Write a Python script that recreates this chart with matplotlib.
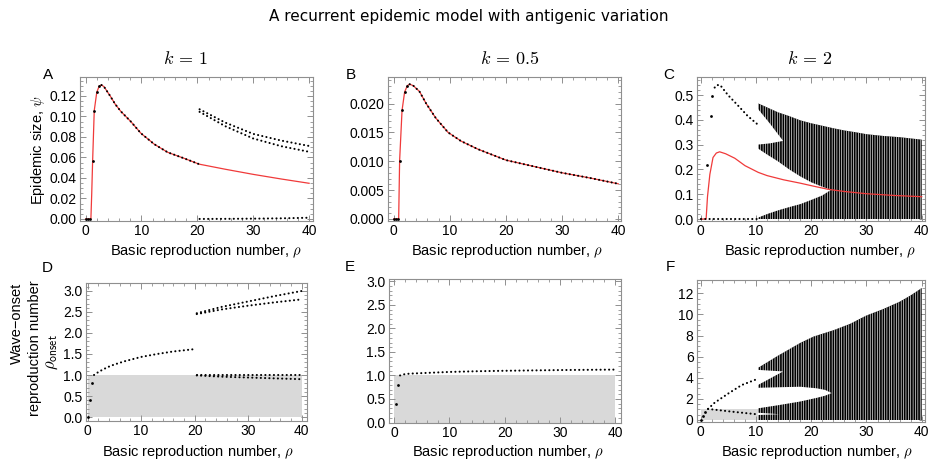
import matplotlib
matplotlib.use("Agg")
import matplotlib.pyplot as plt
from matplotlib.ticker import MultipleLocator, AutoMinorLocator, FormatStrFormatter

plt.rcParams['font.family'] = ['Liberation Sans', 'DejaVu Sans']
plt.rcParams['mathtext.fontset'] = 'cm'
plt.rcParams['hatch.linewidth'] = 0.45

W, H = 937, 469

# ---- panel A (k = 1) ----
a_rho = [0, 0.95, 1.1, 1.26, 1.55, 2.0, 2.45, 2.85, 3.3, 4.4, 5.3, 6.3, 8.1, 9.9, 12.3, 14.7, 17.7, 20.3, 25, 30, 35, 40]
a_psi = [0, 0, 0.025, 0.0566, 0.1057, 0.1236, 0.1298, 0.1307, 0.129, 0.12, 0.112, 0.105, 0.095, 0.0836,
         0.0729, 0.065, 0.059, 0.0535, 0.0485, 0.0435, 0.039, 0.0348]
a_dot_rho = [0, 0.4, 0.8, 1.26, 1.55, 2.0, 2.45]
a_dot_psi = [0, 0, 0, 0.0566, 0.1057, 0.1236, 0.1298]
a_cyc_rho = [20.4, 25, 30, 35, 40]
a_cyc_top = [0.107, 0.094, 0.083, 0.0765, 0.0712]
a_cyc_mid = [0.1045, 0.0905, 0.0785, 0.071, 0.0655]
a_cyc_zero = [0.0, 0.0001, 0.0003, 0.0006, 0.0012]

# ---- panel B (k = 0.5) ----
b_rho = [0, 0.9, 1.07, 1.5, 1.96, 2.44, 2.86, 3.5, 4.6, 5.8, 7.5, 9.7, 12, 15, 20, 25, 30, 35, 40]
b_psi = [0, 0, 0.0101, 0.0188, 0.022, 0.0231, 0.02335, 0.0231, 0.0221, 0.020, 0.0175, 0.015, 0.0135,
         0.0121, 0.0102, 0.0091, 0.0080, 0.0071, 0.0061]
b_dot_rho = [0, 0.4, 0.8, 1.07, 1.5, 1.96, 2.44]
b_dot_psi = [0, 0, 0, 0.0101, 0.0188, 0.022, 0.0231]

# ---- panel C (k = 2) ----
c_rho = [0, 0.95, 1.2, 1.63, 2.2, 2.8, 3.4, 4.5, 6.15, 8, 10.4, 12, 15, 17.9, 20.3, 23, 26, 30, 35, 40]
c_psi = [0, 0, 0.09, 0.18, 0.248, 0.266, 0.271, 0.263, 0.245, 0.215, 0.188, 0.175, 0.158, 0.145,
         0.133, 0.12, 0.111, 0.102, 0.095, 0.09]
c_dot_rho = [1.2, 1.75, 2.1]
c_dot_psi = [0.218, 0.415, 0.497]
c_up_rho = [2.5, 2.9, 3.5, 4.9, 6.75, 8.5, 10.2]
c_up_psi = [0.53, 0.54, 0.54, 0.5, 0.457, 0.415, 0.383]
c_zero_rho = [0, 10.2]
c_ch_rho = [10.4, 12, 14, 16, 18, 20, 22, 24, 26, 28, 30, 33, 36, 38, 40]
c_ch_top = [0.466, 0.45, 0.43, 0.415, 0.398, 0.386, 0.376, 0.366, 0.357, 0.35, 0.342, 0.335, 0.33, 0.325, 0.32]
c_gap_rho = [10.3, 12, 14, 16, 18, 20, 22, 23.6]
c_gap_lo = [0.005, 0.02, 0.035, 0.048, 0.06, 0.077, 0.095, 0.118]
c_gap_hi = [0.285, 0.26, 0.232, 0.2, 0.172, 0.148, 0.13, 0.118]
c_notch_rho = [10.3, 12.5, 14.9]
c_notch_lo = [0.30, 0.305, 0.315]
c_notch_hi = [0.445, 0.385, 0.315]

# ---- panel D ----
d_low_rho = [0, 0.4, 0.8]
d_low = [0, 0.4, 0.8]
d_br_rho = [1.2, 2, 3, 4, 5, 7, 10, 13, 16, 20.3]
d_br = [1.0, 1.07, 1.14, 1.2, 1.25, 1.33, 1.43, 1.5, 1.56, 1.62]
d_cyc_rho = [20.4, 25, 30, 35, 40]
d_cyc_hi1 = [2.47, 2.62, 2.75, 2.88, 3.0]
d_cyc_hi2 = [2.45, 2.56, 2.65, 2.73, 2.8]
d_cyc_lo1 = [1.0, 1.0, 1.0, 1.0, 1.0]
d_cyc_lo2 = [0.99, 0.96, 0.94, 0.92, 0.9]

# ---- panel E ----
e_br_rho = [1.1, 2, 3, 5, 10, 15, 20, 30, 40]
e_br = [1.0, 1.03, 1.04, 1.05, 1.075, 1.09, 1.1, 1.115, 1.125]

# ---- panel F ----
f_up_rho = [1.3, 2.5, 5, 7.4, 10.2]
f_up = [1.05, 1.64, 2.52, 3.31, 3.88]
f_dn_rho = [1.3, 5.6, 10.2]
f_dn = [1.05, 0.79, 0.54]
f_ch_rho = [10.4, 14, 18, 20.4, 24, 27, 30, 33, 36, 38, 40]
f_ch_top = [4.95, 6.1, 7.3, 7.9, 8.5, 9.1, 9.9, 10.5, 11.2, 11.8, 12.5]
f_gap_rho = [10.3, 14, 18, 21, 22.5, 23.7]
f_gap_lo = [1.1, 1.4, 1.75, 2.1, 2.3, 2.55]
f_gap_hi = [3.05, 3.1, 3.15, 3.0, 2.85, 2.55]
f_n1_rho = [10.3, 14.9]
f_n1_lo = [3.3, 4.6]
f_n1_hi = [4.75, 4.6]
f_n2_rho = [10.3, 14.2]
f_n2_lo = [0.47, 0.55]
f_n2_hi = [0.69, 0.55]

RED = '#f03a3a'
FRAME = '#8f8f8f'


def fig_box(l, r, t, b):
    return [l / W, 1 - b / H, (r - l) / W, (b - t) / H]


def style(ax, xlim, ylim, ymaj, ysub, fmt=None, xsub=5):
    ax.set_xlim(*xlim)
    ax.set_ylim(*ylim)
    ax.xaxis.set_major_locator(MultipleLocator(10))
    ax.xaxis.set_minor_locator(AutoMinorLocator(xsub))
    ax.yaxis.set_major_locator(MultipleLocator(ymaj))
    ax.yaxis.set_minor_locator(AutoMinorLocator(ysub))
    if fmt:
        ax.yaxis.set_major_formatter(FormatStrFormatter(fmt))
    for s in ax.spines.values():
        s.set_color(FRAME)
        s.set_linewidth(0.8)
    ax.tick_params(which='both', direction='in', top=True, right=True, color=FRAME,
                   labelsize=10, pad=2.5)
    ax.tick_params(which='major', length=4, width=0.7)
    ax.tick_params(which='minor', length=2, width=0.6)


def dotted(ax, x, y):
    ax.plot(x, y, color='black', lw=1.5, ls=(0, (0.05, 2.0)), dash_capstyle='round', zorder=5)


def points(ax, x, y):
    ax.plot(x, y, 'o', color='black', ms=2.0, mew=0, zorder=5)


def chaos(ax, x, lo, hi):
    # dense sampled orbits: black band with thin light stripes
    ax.fill_between(x, lo, hi, facecolor='black', edgecolor='white', hatch='|||||||',
                    linewidth=0, zorder=2)


def hole(ax, x, lo, hi):
    ax.fill_between(x, lo, hi, facecolor='white', edgecolor='none', linewidth=0, zorder=3)


def grey_box(ax):
    ax.fill_between([0, 40], 0, 1, facecolor='#d9d9d9', edgecolor='none', zorder=1)


fig = plt.figure(figsize=(W / 100, H / 100), dpi=100)

axA = fig.add_axes(fig_box(80, 313, 77, 221))
axB = fig.add_axes(fig_box(388, 621, 77, 221))
axC = fig.add_axes(fig_box(697, 925, 77, 221))
axD = fig.add_axes(fig_box(86, 307, 283, 421))
axE = fig.add_axes(fig_box(389, 621, 279, 423))
axF = fig.add_axes(fig_box(697, 925, 280, 422))

# A
axA.plot(a_rho, a_psi, color=RED, lw=0.9, zorder=4)
points(axA, a_dot_rho, a_dot_psi)
main = [(r, p) for r, p in zip(a_rho, a_psi) if 2.8 <= r <= 20.4]
dotted(axA, [m[0] for m in main], [m[1] for m in main])
for ys in (a_cyc_top, a_cyc_mid, a_cyc_zero):
    dotted(axA, a_cyc_rho, ys)
style(axA, (-1.0, 40.7), (-0.002, 0.1385), 0.02, 4, '%.2f')

# B
axB.plot(b_rho, b_psi, color=RED, lw=0.9, zorder=4)
points(axB, b_dot_rho, b_dot_psi)
main = [(r, p) for r, p in zip(b_rho, b_psi) if r >= 2.8]
dotted(axB, [m[0] for m in main], [m[1] for m in main])
style(axB, (-1.0, 40.5), (-0.00035, 0.0246), 0.005, 5, '%.3f')

# C
chaos(axC, c_ch_rho, 0, c_ch_top)
hole(axC, c_gap_rho, c_gap_lo, c_gap_hi)
hole(axC, c_notch_rho, c_notch_lo, c_notch_hi)
axC.plot(c_rho, c_psi, color=RED, lw=0.9, zorder=4)
points(axC, c_dot_rho, c_dot_psi)
dotted(axC, c_up_rho, c_up_psi)
dotted(axC, c_zero_rho, [0, 0])
style(axC, (-0.7, 40.6), (-0.008, 0.5726), 0.1, 5, '%.1f')

# D
grey_box(axD)
points(axD, d_low_rho, d_low)
dotted(axD, d_br_rho, d_br)
for ys in (d_cyc_hi1, d_cyc_hi2, d_cyc_lo1, d_cyc_lo2):
    dotted(axD, d_cyc_rho, ys)
style(axD, (-0.3, 41.0), (-0.095, 3.19), 0.5, 5, '%.1f')

# E
grey_box(axE)
points(axE, d_low_rho[1:], d_low[1:])
dotted(axE, e_br_rho, e_br)
style(axE, (-0.9, 41.0), (-0.01, 3.05), 0.5, 5, '%.1f')

# F
grey_box(axF)
chaos(axF, f_ch_rho, 0, f_ch_top)
hole(axF, f_gap_rho, f_gap_lo, f_gap_hi)
hole(axF, f_n1_rho, f_n1_lo, f_n1_hi)
hole(axF, f_n2_rho, f_n2_lo, f_n2_hi)
points(axF, d_low_rho, d_low)
dotted(axF, f_up_rho, f_up)
dotted(axF, f_dn_rho, f_dn)
style(axF, (-0.7, 40.6), (-0.19, 13.26), 2, 4)

# text
fig.text(469 / W, 1 - 17 / H, 'A recurrent epidemic model with antigenic variation',
         ha='center', va='center', fontsize=11, family=['Liberation Sans Narrow', 'DejaVu Sans'])
for x, s in [(185, r'$k\,=\,1$'), (510, r'$k\,=\,0.5$'), (810, r'$k\,=\,2$')]:
    fig.text(x / W, 1 - 60 / H, s, ha='center', va='center', fontsize=13)
for x, y, s in [(48, 75, 'A'), (351, 75, 'B'), (669, 75, 'C'),
                (47, 268, 'D'), (350, 267, 'E'), (670, 267, 'F')]:
    fig.text(x / W, 1 - y / H, s, ha='center', va='center', fontsize=11)
for x, y in [(206, 251), (507, 251), (820, 251), (198, 452), (508, 452), (817, 452)]:
    fig.text(x / W, 1 - y / H, r'Basic reproduction number, $\rho$', ha='center', va='center',
             fontsize=10.5)
fig.text(38 / W, 1 - 150 / H, r'Epidemic size, $\psi$', rotation=90, ha='center', va='center',
         fontsize=10.5)
fig.text(17 / W, 1 - 323 / H, 'Wave\u2212onset', rotation=90, ha='center', va='center', fontsize=10.5)
fig.text(35 / W, 1 - 348 / H, 'reproduction number', rotation=90, ha='center', va='center',
         fontsize=10.5)
fig.text(52 / W, 1 - 352 / H, r'$\rho_{\mathsf{onset}}$', rotation=90, ha='center', va='center',
         fontsize=12)

fig.savefig('out.png', dpi=100)
